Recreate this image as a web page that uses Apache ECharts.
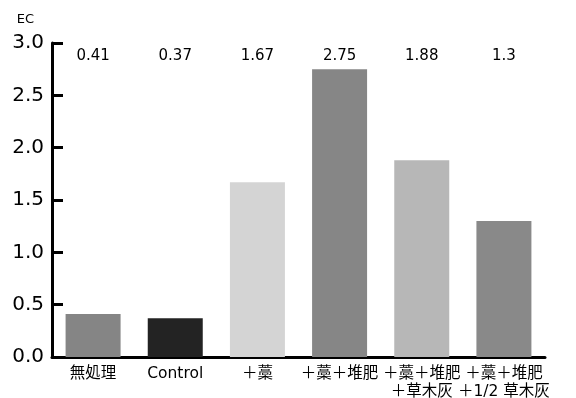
<!DOCTYPE html>
<html>
<head>
<meta charset="utf-8">
<script src="https://cdn.jsdelivr.net/npm/echarts@6/dist/echarts.min.js"></script>
<style>
  html, body { margin: 0; padding: 0; background: #fff; }
  #chart { width: 576px; height: 398px; }
</style>
</head>
<body>
<div id="chart"></div>
<script>
// Treatments, their EC readings and bar shades
const categories = ['無処理', 'Control', '＋藁', '＋藁＋堆肥', '＋藁＋堆肥\n＋草木灰', '＋藁＋堆肥\n＋1/2 草木灰'];
const ecValues = [0.41, 0.37, 1.67, 2.75, 1.88, 1.3];
const barColors = ['#858585', '#232323', '#d4d4d4', '#868686', '#b7b7b7', '#898989'];
const yTicks = [0, 0.5, 1.0, 1.5, 2.0, 2.5, 3.0];

const FONT = '"DejaVu Sans", "Noto Sans CJK JP", sans-serif';
const chart = echarts.init(document.getElementById('chart'));

chart.setOption({
  animation: false,
  backgroundColor: '#fff',
  grid: { left: 52, right: 31, top: 43, bottom: 41, containLabel: false, outerBoundsMode: 'none' },
  xAxis: [
    {
      type: 'category',
      data: categories,
      axisLine: { lineStyle: { color: '#000', width: 3 } },
      axisTick: {
        inside: true, length: 8,
        lineStyle: { color: '#000', width: 3 },
        interval: (i) => i === 0
      },
      axisLabel: {
        color: '#000', fontFamily: FONT, fontSize: 15.5, lineHeight: 18,
        margin: 8, interval: 0
      }
    },
    {
      // value row printed along the top of the plot
      type: 'category',
      position: 'top',
      data: ecValues.map(String),
      axisLine: { show: false },
      axisTick: { show: false },
      axisLabel: {
        inside: true, margin: 6, interval: 0,
        color: '#000', fontFamily: FONT, fontSize: 15
      }
    }
  ],
  yAxis: {
    type: 'value',
    name: 'EC',
    nameLocation: 'end',
    nameGap: 17,
    nameTextStyle: { color: '#000', fontFamily: FONT, fontSize: 13, align: 'right', padding: [0, 18, 0, 0] },
    min: yTicks[0],
    max: yTicks[yTicks.length - 1],
    interval: yTicks[1] - yTicks[0],
    axisLine: { show: true, lineStyle: { color: '#000', width: 3 } },
    axisTick: { show: true, inside: true, length: 11, lineStyle: { color: '#000', width: 3 } },
    splitLine: { show: false },
    axisLabel: {
      color: '#000', fontFamily: FONT, fontSize: 20, margin: 8,
      formatter: (v) => v.toFixed(1)
    }
  },
  series: [{
    type: 'bar',
    barWidth: 55,
    data: ecValues.map((v, i) => ({ value: v, itemStyle: { color: barColors[i] } }))
  }]
});
</script>
</body>
</html>
